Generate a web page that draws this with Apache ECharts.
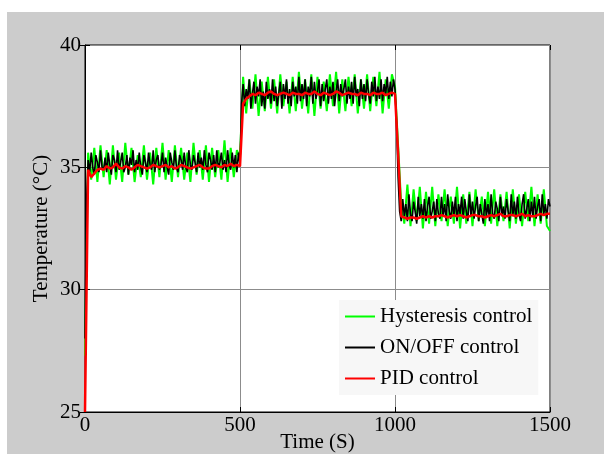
<!DOCTYPE html>
<html>
<head>
<meta charset="utf-8">
<script src="https://cdn.jsdelivr.net/npm/echarts@6/dist/echarts.min.js"></script>
<style>
  html, body { margin: 0; padding: 0; background: #fff; }
  #chart { position: absolute; left: 7px; top: 12px; width: 597px; height: 442px; }
</style>
</head>
<body>
<div id="chart"></div>
<script>
// 温度控制对比曲线 (Hysteresis / ON-OFF / PID)
var hystStep = 10;  // s between samples
var onOffStep = 5;
var pidStep = 10;

var hysteresis = [
  27.3, 35.6, 34.5, 35.8, 34.4, 35.9, 34.6, 35.7, 34.3, 35.9,
  34.5, 35.6, 34.4, 36.0, 34.7, 35.8, 34.4, 35.5, 34.6, 35.9,
  34.5, 35.6, 34.3, 35.8, 34.6, 36.0, 34.5, 35.7, 34.4, 35.9,
  34.6, 35.8, 34.5, 35.6, 34.4, 36.0, 34.7, 35.7, 34.5, 35.9,
  34.4, 35.8, 34.6, 35.7, 34.5, 36.1, 34.4, 35.8, 34.6, 35.7,
  35.4, 38.7, 37.2, 38.6, 37.4, 38.8, 37.1, 38.5, 37.3, 38.7,
  37.4, 38.6, 37.2, 38.8, 37.5, 38.5, 37.2, 38.7, 37.3, 38.9,
  37.4, 38.6, 37.2, 38.8, 37.1, 38.7, 37.4, 38.5, 37.3, 38.8,
  37.5, 38.9, 37.2, 38.6, 37.3, 38.7, 37.5, 38.8, 37.2, 38.6,
  37.4, 38.8, 37.3, 38.7, 37.5, 38.9, 37.2, 38.6, 37.4, 38.8,
  38.3, 35.9, 33.5, 32.7, 34.3, 32.6, 34.1, 32.8, 34.2, 32.5,
  34.0, 32.7, 34.2, 32.6, 33.9, 32.8, 34.1, 32.6, 33.8, 32.7,
  34.2, 32.5, 33.9, 32.7, 34.0, 32.6, 34.1, 32.8, 33.8, 32.6,
  34.0, 32.7, 34.1, 32.6, 33.9, 32.8, 34.0, 32.5, 34.1, 32.7,
  33.9, 32.6, 34.0, 32.8, 34.2, 32.6, 33.9, 32.7, 34.1, 32.6,
  32.4
];

var onOff = [
  28.0, 33.6, 35.3, 34.8, 35.6, 35.0, 34.7, 35.5, 35.2, 34.8,
  35.7, 35.0, 34.9, 35.4, 34.8, 35.6, 35.1, 34.7, 35.5, 35.3,
  34.8, 35.7, 34.9, 35.2, 35.6, 34.8, 35.0, 35.5, 34.7, 35.4,
  35.1, 35.7, 34.8, 35.3, 34.9, 35.6, 35.0, 34.7, 35.5, 35.2,
  34.8, 35.6, 35.1, 34.9, 35.7, 34.8, 35.3, 35.5, 34.9, 35.1,
  35.6, 34.8, 35.4, 35.0, 34.7, 35.6, 35.2, 34.9, 35.7, 35.0,
  34.8, 35.5, 35.3, 34.9, 35.6, 35.0, 34.8, 35.7, 35.1, 34.9,
  35.5, 35.2, 34.8, 35.6, 35.0, 35.4, 34.9, 35.7, 35.1, 34.8,
  35.6, 35.3, 34.9, 35.5, 34.8, 35.7, 35.0, 35.2, 35.6, 34.9,
  35.3, 34.8, 35.7, 35.1, 34.9, 35.6, 35.0, 35.5, 34.8, 35.6,
  35.1, 37.6, 38.4, 37.5, 38.2, 37.8, 38.6, 37.4, 38.0, 38.5,
  37.6, 38.3, 37.9, 38.6, 37.5, 38.1, 37.4, 38.5, 37.8, 38.2,
  37.6, 38.6, 37.7, 38.3, 37.5, 38.0, 38.5, 37.4, 38.4, 37.8,
  38.6, 37.6, 38.2, 37.5, 38.5, 37.9, 38.3, 37.6, 38.7, 37.7,
  38.4, 37.8, 38.6, 37.5, 38.3, 37.9, 38.7, 37.6, 38.5, 37.8,
  38.1, 38.6, 37.5, 38.4, 37.7, 38.2, 38.6, 37.6, 38.3, 37.8,
  38.5, 37.5, 38.1, 38.6, 37.7, 38.4, 37.9, 38.2, 38.6, 37.6,
  38.3, 37.8, 38.5, 37.6, 38.7, 37.9, 38.2, 37.5, 38.6, 37.8,
  38.4, 37.7, 38.6, 38.0, 37.6, 38.5, 37.9, 38.7, 37.7, 38.3,
  37.8, 38.6, 37.7, 38.4, 38.0, 38.7, 37.8, 38.5, 37.9, 38.6,
  38.2, 36.8, 34.6, 33.2, 32.8, 33.7, 33.0, 33.5, 32.8, 33.9,
  33.1, 32.8, 33.6, 33.2, 32.7, 33.8, 33.0, 33.5, 32.9, 33.7,
  32.8, 33.4, 33.8, 32.9, 33.2, 33.6, 32.8, 33.7, 33.1, 32.9,
  33.8, 33.0, 33.5, 32.8, 33.9, 33.2, 32.9, 33.6, 33.0, 33.8,
  32.8, 33.5, 33.1, 33.8, 32.9, 33.7, 33.2, 32.8, 33.9, 33.0,
  33.6, 32.9, 33.4, 33.8, 32.8, 33.5, 33.1, 32.7, 33.7, 33.0,
  33.5, 32.8, 33.9, 33.1, 32.9, 33.6, 33.3, 32.8, 33.8, 33.0,
  33.4, 32.9, 33.7, 33.2, 32.8, 33.9, 33.0, 33.6, 32.9, 33.8,
  33.1, 32.8, 33.5, 33.9, 32.9, 33.3, 33.7, 32.8, 33.6, 33.0,
  33.8, 32.9, 33.4, 33.7, 32.8, 33.9, 33.1, 33.5, 32.9, 33.7,
  33.4
];

var pid = [
  25.0, 34.9, 34.6, 34.75, 34.9, 34.95, 34.9, 35.05, 34.95, 35.0,
  35.15, 35.0, 34.95, 35.05, 35.0, 34.9, 35.0, 35.1, 35.05, 35.0,
  34.95, 35.0, 35.1, 35.05, 35.0, 35.05, 35.1, 35.0, 35.05, 34.95,
  35.0, 35.1, 35.05, 35.0, 34.95, 35.0, 35.05, 35.1, 35.0, 34.95,
  34.95, 35.05, 35.1, 35.05, 35.0, 35.1, 35.05, 35.15, 35.05, 35.1,
  35.05, 37.6, 37.8, 37.9, 38.0, 37.95, 38.05, 38.0, 37.95, 38.05,
  38.1, 38.0, 37.95, 38.0, 38.05, 38.0, 37.95, 38.05, 38.0, 38.0,
  37.95, 38.05, 38.0, 38.0, 38.1, 38.0, 37.95, 38.05, 38.0, 37.95,
  38.0, 38.1, 38.05, 37.95, 38.0, 38.05, 38.0, 38.0, 37.95, 38.05,
  38.0, 38.0, 37.95, 38.05, 38.0, 38.0, 38.05, 37.95, 38.0, 38.05,
  38.0, 35.6, 33.0, 32.95, 32.9, 32.95, 32.95, 32.9, 32.95, 33.0,
  32.95, 33.0, 32.95, 33.0, 33.0, 33.05, 33.0, 32.95, 33.0, 33.05,
  33.0, 33.05, 33.0, 32.95, 33.0, 33.05, 33.05, 33.0, 33.0, 32.95,
  33.0, 33.05, 33.0, 33.05, 33.1, 33.0, 33.0, 33.05, 33.05, 33.0,
  33.05, 33.1, 33.0, 33.05, 33.0, 33.0, 33.05, 33.1, 33.05, 33.1,
  33.1
];

var seriesNames = ['Hysteresis control', 'ON/OFF control', 'PID control'];

function pairs(values, step) {
  return values.map(function(v, i) { return [i * step, v]; });
}

var font = "'Liberation Serif', 'Times New Roman', serif";
var fontSize = 21;
var gridColor = '#8c8c8c';

var chart = echarts.init(document.getElementById('chart'), null, { renderer: 'canvas' });

var mirrorAxis = {
  axisLine: { show: false },
  axisTick: { show: true, inside: true, length: 5, lineStyle: { color: '#000' } },
  axisLabel: { show: false },
  splitLine: { show: false }
};

chart.setOption({
  animation: false,
  backgroundColor: '#cccccc',
  textStyle: { fontFamily: font, color: '#000' },
  grid: {
    left: 78, right: 54, top: 33, bottom: 42,
    outerBoundsMode: 'none',
    show: true,
    backgroundColor: '#fff',
    borderColor: '#000',
    borderWidth: 1
  },
  legend: {
    data: seriesNames,
    orient: 'vertical',
    left: 332,
    top: 288,
    backgroundColor: '#f7f7f7',
    padding: [6, 6, 6, 6],
    icon: 'rect',
    itemWidth: 30,
    itemHeight: 2,
    itemGap: 10,
    textStyle: { fontFamily: font, fontSize: fontSize, lineHeight: 21, color: '#000' }
  },
  xAxis: [
    {
      type: 'value',
      min: 0, max: 1500, interval: 500,
      name: 'Time (S)',
      nameLocation: 'middle',
      nameGap: 20,
      nameMoveOverlap: false,
      nameTextStyle: { fontFamily: font, fontSize: fontSize, color: '#000' },
      axisLine: { show: true, lineStyle: { color: '#000', width: 1 } },
      axisTick: { inside: true, length: 5, lineStyle: { color: '#000' } },
      axisLabel: {
        fontFamily: font, fontSize: fontSize, color: '#000', margin: 3,
        formatter: function(v) { return String(v); }
      },
      splitLine: { show: true, lineStyle: { color: gridColor, width: 1 } }
    },
    Object.assign({ type: 'value', position: 'top', min: 0, max: 1500, interval: 500 }, mirrorAxis)
  ],
  yAxis: [
    {
      type: 'value',
      min: 25, max: 40, interval: 5,
      name: 'Temperature (°C)',
      nameLocation: 'middle',
      nameGap: 33,
      nameMoveOverlap: false,
      nameTextStyle: { fontFamily: font, fontSize: fontSize, color: '#000' },
      axisLine: { show: true, lineStyle: { color: '#000', width: 1 } },
      axisTick: { show: true, inside: true, length: 5, lineStyle: { color: '#000' } },
      axisLabel: { fontFamily: font, fontSize: fontSize, color: '#000', margin: 4 },
      splitLine: { show: true, lineStyle: { color: gridColor, width: 1 } }
    },
    Object.assign({ type: 'value', position: 'right', min: 25, max: 40, interval: 5 }, mirrorAxis)
  ],
  series: [
    {
      name: seriesNames[0],
      type: 'line',
      symbol: 'none',
      lineStyle: { color: '#00ff00', width: 2 },
      itemStyle: { color: '#00ff00' },
      data: pairs(hysteresis, hystStep)
    },
    {
      name: seriesNames[1],
      type: 'line',
      symbol: 'none',
      lineStyle: { color: '#000000', width: 1.6 },
      itemStyle: { color: '#000000' },
      data: pairs(onOff, onOffStep)
    },
    {
      name: seriesNames[2],
      type: 'line',
      symbol: 'none',
      lineStyle: { color: '#ff0000', width: 2.5 },
      itemStyle: { color: '#ff0000' },
      data: pairs(pid, pidStep)
    }
  ]
});
</script>
</body>
</html>
